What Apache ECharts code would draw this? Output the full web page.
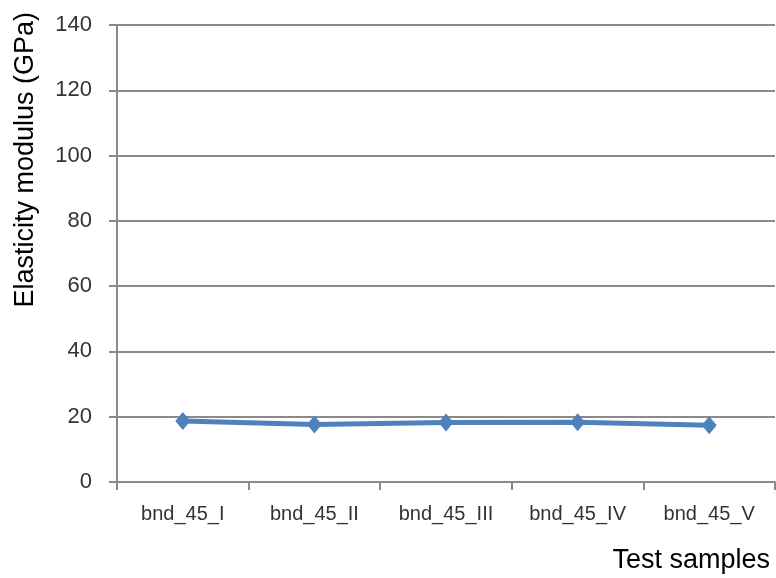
<!DOCTYPE html>
<html>
<head>
<meta charset="utf-8">
<script src="https://cdn.jsdelivr.net/npm/echarts@6/dist/echarts.min.js"></script>
<style>
  html, body { margin: 0; padding: 0; background: #fff; }
  #chart { width: 776px; height: 578px; }
</style>
</head>
<body>
<div id="chart"></div>
<script>
// Elastic modulus measured for each bonded 45° sample
const samples = ['bnd_45_I', 'bnd_45_II', 'bnd_45_III', 'bnd_45_IV', 'bnd_45_V'];
const modulus = [18.7, 17.6, 18.2, 18.3, 17.4];
const yTicks = { min: 0, max: 140, step: 20 };

const chart = echarts.init(document.getElementById('chart'));
const fontFamily = 'Liberation Sans, Arial, sans-serif';
const axisGrey = '#8a8a8a';

chart.setOption({
  animation: false,
  grid: { left: 117, right: 1, top: 25, bottom: 96 },
  xAxis: {
    type: 'category',
    data: samples,
    boundaryGap: true,
    axisLine: { lineStyle: { color: axisGrey, width: 2 } },
    axisTick: { show: true, interval: 0, length: 8, alignWithLabel: false, lineStyle: { color: axisGrey, width: 2 } },
    axisLabel: { interval: 0, hideOverlap: false, color: '#333', fontSize: 20, fontFamily: fontFamily, margin: 22 },
    name: 'Test samples',
    nameLocation: 'end',
    nameGap: 0,
    nameTextStyle: {
      color: '#000', fontSize: 27, fontFamily: fontFamily,
      align: 'right', verticalAlign: 'top', padding: [65, 5, 0, 0]
    }
  },
  yAxis: {
    type: 'value',
    min: yTicks.min,
    max: yTicks.max,
    interval: yTicks.step,
    axisLine: { show: true, lineStyle: { color: axisGrey, width: 2 } },
    axisTick: { show: true, length: 8, lineStyle: { color: axisGrey, width: 2 } },
    axisLabel: { color: '#333', fontSize: 22, fontFamily: fontFamily, margin: 25 },
    splitLine: { show: true, lineStyle: { color: axisGrey, width: 2 } }
  },
  graphic: [{
    type: 'text',
    left: 12,
    top: 12,
    rotation: Math.PI / 2,
    style: {
      text: 'Elasticity modulus (GPa)',
      fill: '#000',
      font: '27px ' + fontFamily
    }
  }],
  series: [{
    type: 'line',
    data: modulus,
    symbol: 'diamond',
    symbolSize: [15, 18],
    lineStyle: { color: '#4f81bd', width: 5 },
    itemStyle: { color: '#4f81bd' }
  }]
});
</script>
</body>
</html>
